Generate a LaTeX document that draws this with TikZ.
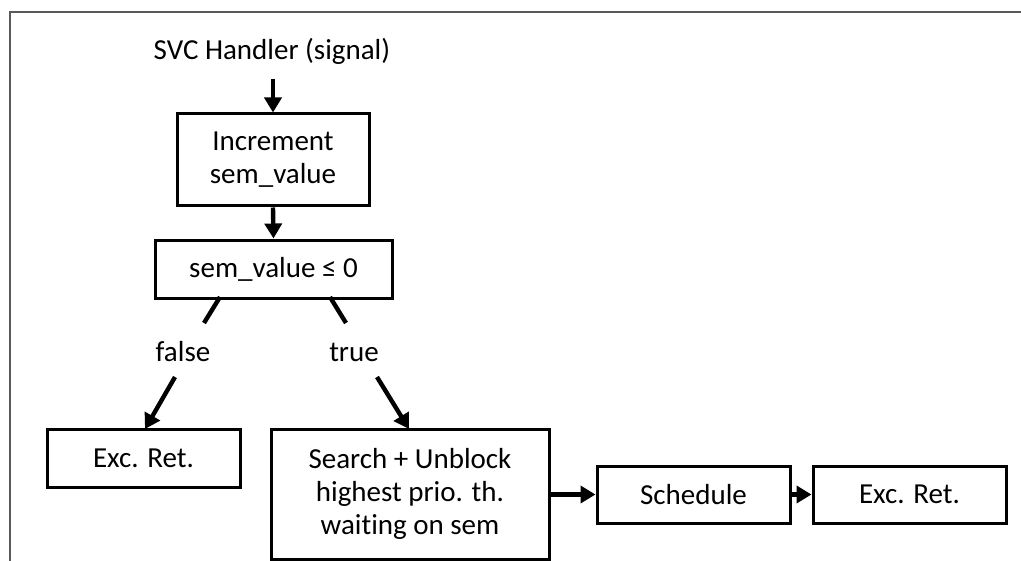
\documentclass[tikz,border=0pt]{standalone}
\usepackage{fontspec}
\setmainfont[Ligatures=NoCommon]{Carlito}
\usetikzlibrary{arrows.meta}
\begin{document}
\begin{tikzpicture}[x=0.5pt,y=-0.5pt,
  box/.style={draw=black,line width=1.5pt,inner sep=0pt,align=center,font=\fontsize{14.5}{16.5}\selectfont},
  lbl/.style={inner sep=0pt,font=\fontsize{14.5}{16.5}\selectfont},
  arr/.style={line width=2.2pt,-{Triangle[length=7.5pt,width=8.5pt]}},
  seg/.style={line width=2.2pt}]
\useasboundingbox (0,0) rectangle (1021,561);
\draw[line width=1pt,color=black!65] (9.5,561) -- (9.5,12) -- (1021,12);
\node[lbl] (title) at (272,51) {SVC Handler (signal)};
\node[box,minimum width=96pt,minimum height=46pt] (inc) at (273,160) {Increment\\sem\_value};
\node[box,minimum width=118.5pt,minimum height=29pt] (cond) at (273.5,269) {sem\_value ≤ 0};
\node[lbl] (false) at (183,352) {false};
\node[lbl] (true) at (354,352) {true};
\node[box,minimum width=96.5pt,minimum height=29pt] (ret1) at (143.5,458) {Exc. Ret.};
\node[box,minimum width=139pt,minimum height=65pt] (search) at (410,494) {Search + Unblock\\highest prio. th.\\waiting on sem};
\node[box,minimum width=96.5pt,minimum height=28.5pt] (sched) at (693.5,494.5) {Schedule};
\node[box,minimum width=96.5pt,minimum height=28.5pt] (ret2) at (909.5,494.5) {Exc. Ret.};
\coordinate (t0) at (273,79);
\draw[arr] (t0) -- (inc.north);
\draw[arr] (inc.south) -- (cond.north);
\coordinate (fa) at (220,297);
\coordinate (fb) at (204,323);
\coordinate (fc) at (175,377);
\coordinate (fd) at (145,429);
\draw[seg] (fa) -- (fb);
\draw[arr] (fc) -- (fd);
\coordinate (ta) at (330,297);
\coordinate (tb) at (346,323);
\coordinate (tc) at (377,377);
\coordinate (td) at (409,429);
\draw[seg] (ta) -- (tb);
\draw[arr] (tc) -- (td);
\draw[arr] (search.east |- sched.west) -- (sched.west);
\draw[arr] (sched.east) -- (ret2.west);
\end{tikzpicture}
\end{document}
